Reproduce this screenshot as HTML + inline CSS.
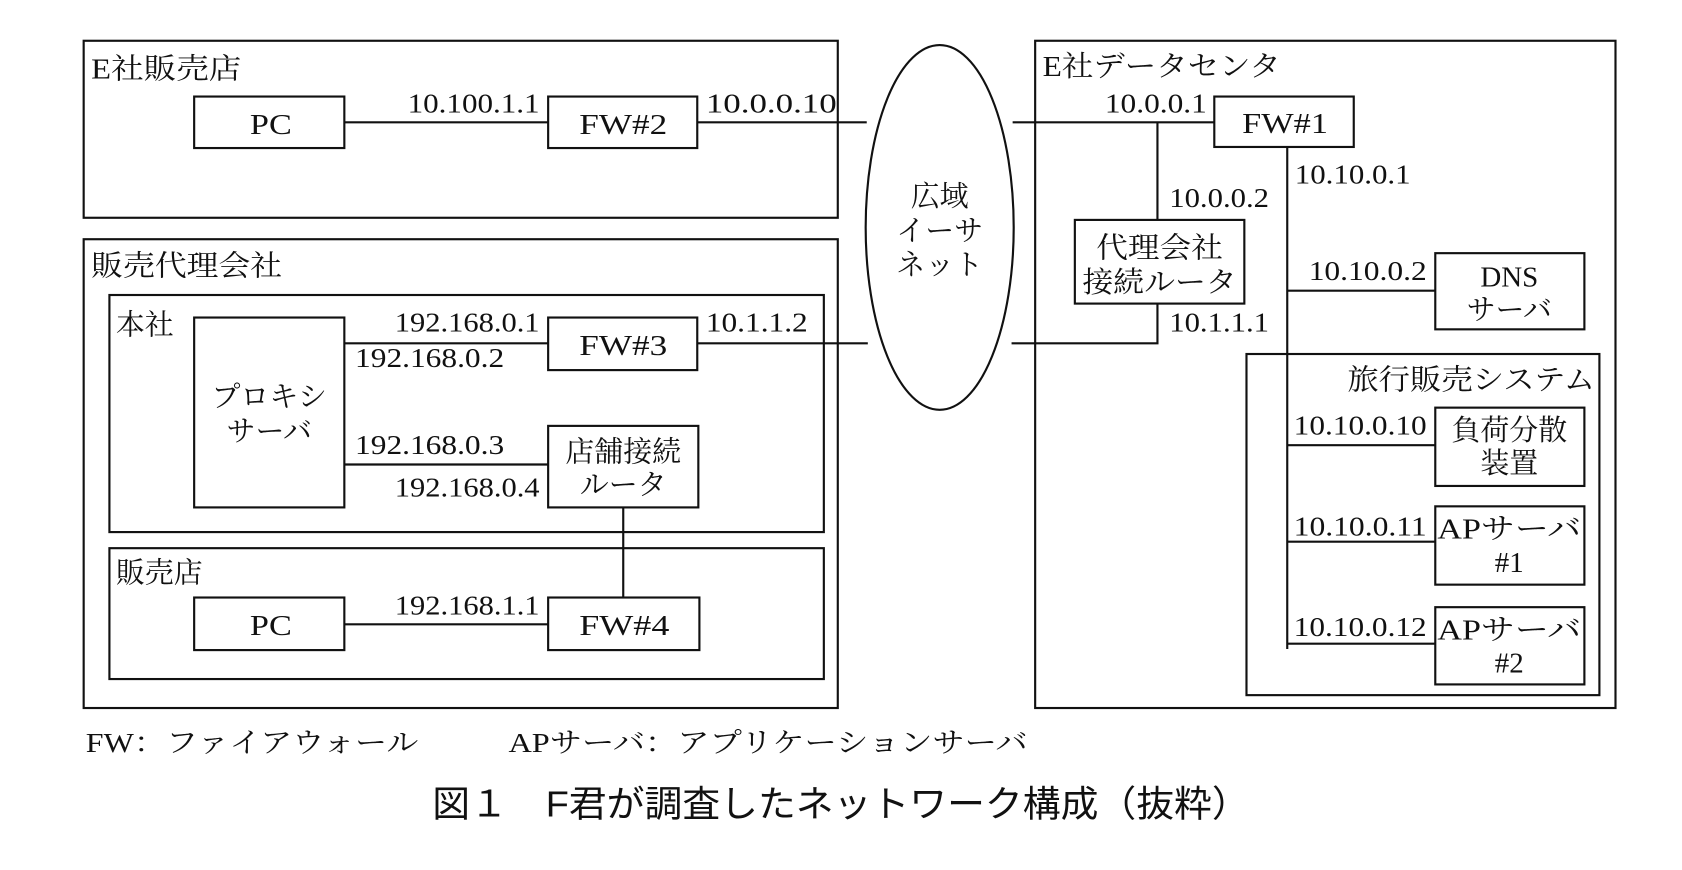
<!DOCTYPE html>
<html><head><meta charset="utf-8"><style>
html,body{margin:0;padding:0;background:#fff;}
svg{display:block;}
text{font-family:"Liberation Serif","Noto Serif CJK SC",serif;fill:#111;}
.s{font-size:26px;}
.b{font-size:27px;}
</style></head><body>
<svg width="1682" height="870" viewBox="0 0 1568 811" preserveAspectRatio="none" xmlns="http://www.w3.org/2000/svg">
<g fill="none" stroke="#111" stroke-width="2">
<rect x="78" y="38" width="703" height="165"/>
<rect x="181" y="90" width="140" height="48"/>
<rect x="511" y="90" width="139" height="48"/>
<line x1="321" y1="114" x2="511" y2="114"/>
<line x1="650" y1="114" x2="808" y2="114"/>
<ellipse cx="876" cy="212" rx="69" ry="170"/>
<rect x="965" y="38" width="541" height="622"/>
<rect x="1132" y="90" width="130" height="47"/>
<line x1="944" y1="114" x2="1132" y2="114"/>
<line x1="1079" y1="114" x2="1079" y2="205"/>
<rect x="1002" y="205" width="158" height="78"/>
<polyline points="1079,283 1079,320 943,320"/>
<line x1="1200" y1="137" x2="1200" y2="605"/>
<rect x="1338" y="236" width="139" height="71"/>
<line x1="1200" y1="271" x2="1338" y2="271"/>
<rect x="1162" y="330" width="329" height="318"/>
<rect x="1338" y="380" width="139" height="73"/>
<line x1="1200" y1="415" x2="1338" y2="415"/>
<rect x="1338" y="472" width="139" height="73"/>
<line x1="1200" y1="505" x2="1338" y2="505"/>
<rect x="1338" y="566" width="139" height="72"/>
<line x1="1200" y1="600" x2="1338" y2="600"/>
<rect x="78" y="223" width="703" height="437"/>
<rect x="102" y="275" width="666" height="221"/>
<rect x="181" y="296" width="140" height="177"/>
<rect x="511" y="296" width="139" height="49"/>
<line x1="321" y1="320" x2="511" y2="320"/>
<line x1="650" y1="320" x2="809" y2="320"/>
<rect x="511" y="397" width="140" height="76"/>
<line x1="321" y1="433" x2="511" y2="433"/>
<line x1="581" y1="473" x2="581" y2="557"/>
<rect x="102" y="511" width="666" height="122"/>
<rect x="181" y="557" width="140" height="49"/>
<rect x="511" y="557" width="141" height="49"/>
<line x1="321" y1="582" x2="511" y2="582"/>
</g>
<g lengthAdjust="spacingAndGlyphs">
<text class="b" x="85" y="73" textLength="140" lengthAdjust="spacingAndGlyphs">E社販売店</text>
<text class="b" x="233" y="125" textLength="39" lengthAdjust="spacingAndGlyphs">PC</text>
<text class="b" x="540" y="125" textLength="82" lengthAdjust="spacingAndGlyphs">FW#2</text>
<text class="s" x="380" y="105" textLength="123" lengthAdjust="spacingAndGlyphs">10.100.1.1</text>
<text class="s" x="658" y="105" textLength="122" lengthAdjust="spacingAndGlyphs">10.0.0.10</text>
<text class="b" x="876" y="192" text-anchor="middle">広域</text>
<text class="b" x="876" y="224" text-anchor="middle">イーサ</text>
<text class="b" x="876" y="256" text-anchor="middle">ネット</text>
<text class="b" x="972" y="71" textLength="222" lengthAdjust="spacingAndGlyphs">E社データセンタ</text>
<text class="b" x="1158" y="124" textLength="80" lengthAdjust="spacingAndGlyphs">FW#1</text>
<text class="s" x="1030" y="105" textLength="95" lengthAdjust="spacingAndGlyphs">10.0.0.1</text>
<text class="s" x="1090" y="193" textLength="93" lengthAdjust="spacingAndGlyphs">10.0.0.2</text>
<text class="b" x="1022" y="240" textLength="118" lengthAdjust="spacingAndGlyphs">代理会社</text>
<text class="b" x="1009" y="272" textLength="144" lengthAdjust="spacingAndGlyphs">接続ルータ</text>
<text class="s" x="1090" y="309" textLength="93" lengthAdjust="spacingAndGlyphs">10.1.1.1</text>
<text class="s" x="1207" y="171" textLength="108" lengthAdjust="spacingAndGlyphs">10.10.0.1</text>
<text class="s" x="1220" y="261" textLength="110" lengthAdjust="spacingAndGlyphs">10.10.0.2</text>
<text class="b" x="1407" y="267" text-anchor="middle">DNS</text>
<text class="b" x="1407" y="298" text-anchor="middle">サーバ</text>
<text class="b" x="1256" y="363" textLength="231" lengthAdjust="spacingAndGlyphs">旅行販売システム</text>
<text class="s" x="1206" y="405" textLength="124" lengthAdjust="spacingAndGlyphs">10.10.0.10</text>
<text class="b" x="1407" y="410" text-anchor="middle">負荷分散</text>
<text class="b" x="1407" y="441" text-anchor="middle">装置</text>
<text class="s" x="1206" y="499" textLength="124" lengthAdjust="spacingAndGlyphs">10.10.0.11</text>
<text class="b" x="1340" y="502" textLength="134" lengthAdjust="spacingAndGlyphs">APサーバ</text>
<text class="b" x="1407" y="533" text-anchor="middle">#1</text>
<text class="s" x="1206" y="593" textLength="124" lengthAdjust="spacingAndGlyphs">10.10.0.12</text>
<text class="b" x="1340" y="596" textLength="134" lengthAdjust="spacingAndGlyphs">APサーバ</text>
<text class="b" x="1407" y="627" text-anchor="middle">#2</text>
<text class="b" x="85" y="257" textLength="178" lengthAdjust="spacingAndGlyphs">販売代理会社</text>
<text class="b" x="108" y="312">本社</text>
<text class="b" x="251" y="379" text-anchor="middle">プロキシ</text>
<text class="b" x="251" y="411" text-anchor="middle">サーバ</text>
<text class="b" x="540" y="331" textLength="82" lengthAdjust="spacingAndGlyphs">FW#3</text>
<text class="s" x="368" y="309" textLength="135" lengthAdjust="spacingAndGlyphs">192.168.0.1</text>
<text class="s" x="331" y="342" textLength="139" lengthAdjust="spacingAndGlyphs">192.168.0.2</text>
<text class="s" x="658" y="309" textLength="95" lengthAdjust="spacingAndGlyphs">10.1.1.2</text>
<text class="s" x="331" y="423" textLength="139" lengthAdjust="spacingAndGlyphs">192.168.0.3</text>
<text class="s" x="368" y="463" textLength="135" lengthAdjust="spacingAndGlyphs">192.168.0.4</text>
<text class="b" x="581" y="430" text-anchor="middle">店舗接続</text>
<text class="b" x="581" y="461" text-anchor="middle">ルータ</text>
<text class="b" x="108" y="543">販売店</text>
<text class="b" x="233" y="592" textLength="39" lengthAdjust="spacingAndGlyphs">PC</text>
<text class="b" x="540" y="592" textLength="84" lengthAdjust="spacingAndGlyphs">FW#4</text>
<text class="s" x="368" y="573" textLength="135" lengthAdjust="spacingAndGlyphs">192.168.1.1</text>
<text class="s" x="80" y="701" textLength="310" lengthAdjust="spacingAndGlyphs">FW：ファイアウォール</text>
<text class="s" x="474" y="701" textLength="484" lengthAdjust="spacingAndGlyphs">APサーバ：アプリケーションサーバ</text>
<text x="403" y="761" textLength="762" lengthAdjust="spacingAndGlyphs" style="font-family:'Liberation Sans','Noto Sans CJK JP',sans-serif;font-size:34px;">図１　F君が調査したネットワーク構成（抜粋）</text>
</g>
</svg>
</body></html>
